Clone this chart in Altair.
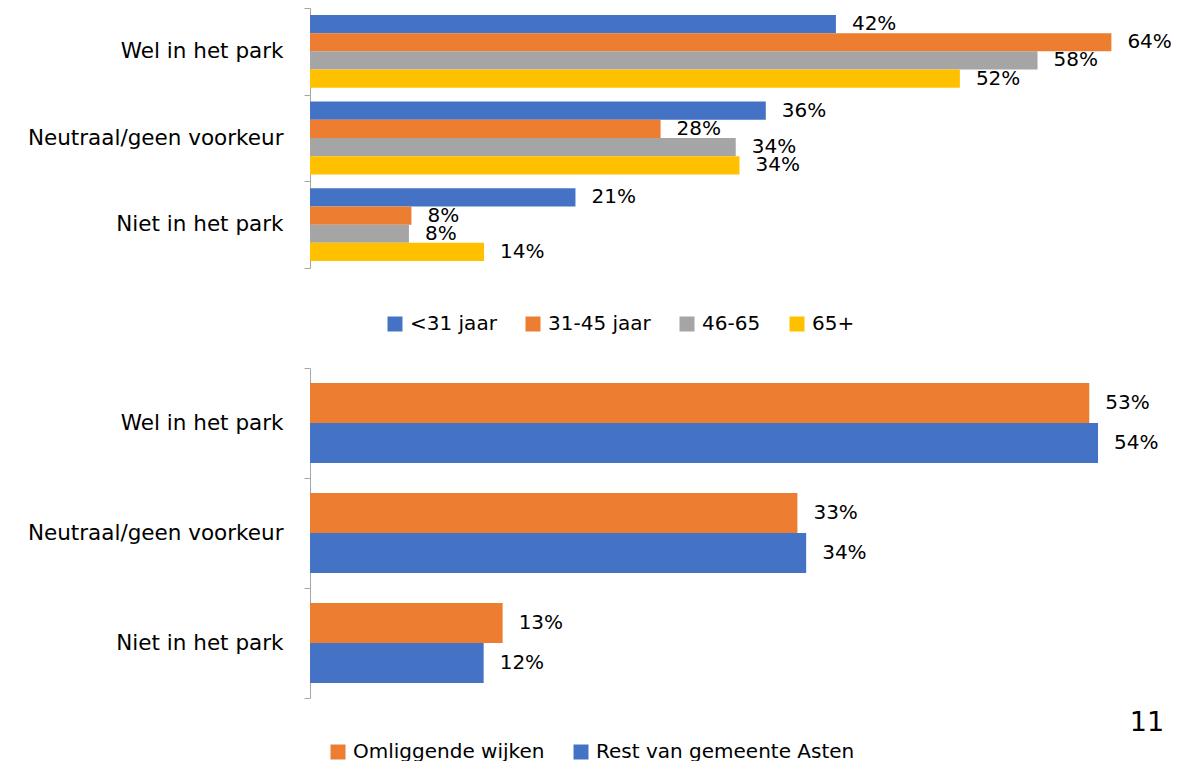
import altair as alt
import pandas as pd

FONT = "DejaVu Sans"

categories = ["Wel in het park", "Neutraal/geen voorkeur", "Niet in het park"]

# Top panel: age groups
age_groups = ["<31 jaar", "31-45 jaar", "46-65", "65+"]
age_colors = ["#4472C4", "#ED7D31", "#A5A5A5", "#FFC000"]
age_values = {
    "<31 jaar": [42.0, 36.4, 21.2],
    "31-45 jaar": [64.0, 28.0, 8.1],
    "46-65": [58.1, 34.0, 7.9],
    "65+": [51.9, 34.3, 13.9],
}

# Bottom panel: area
areas = ["Omliggende wijken", "Rest van gemeente Asten"]
area_colors = ["#ED7D31", "#4472C4"]
area_values = {
    "Omliggende wijken": [53.4, 33.4, 13.2],
    "Rest van gemeente Asten": [54.0, 34.0, 11.9],
}

page_number = "11"

top_rows = []
for g in age_groups:
    for c, v in zip(categories, age_values[g]):
        top_rows.append({"cat": c, "group": g, "value": v})
top_df = pd.DataFrame(top_rows)

bot_rows = []
for a in areas:
    for c, v in zip(categories, area_values[a]):
        bot_rows.append({"cat": c, "group": a, "value": v})
bot_df = pd.DataFrame(bot_rows)


def panel(df, groups, colors, xmax, width, height, off_pad, legend_x, legend_y, extra=None):
    y = alt.Y(
        "cat:N",
        sort=categories,
        title=None,
        scale=alt.Scale(paddingInner=0, paddingOuter=0),
        axis=alt.Axis(
            tickBand="extent",
            domainColor="#A6A6A6",
            tickColor="#A6A6A6",
            tickSize=6,
            labelFontSize=21.5,
            labelFont=FONT,
            labelColor="#000000",
            labelPadding=21,
            minExtent=302,
            maxExtent=302,
            labelLimit=300,
        ),
    )
    x = alt.X(
        "value:Q",
        scale=alt.Scale(domain=[0, xmax], nice=False),
        axis=None,
    )
    yoff = alt.YOffset(
        "group:N", sort=groups, scale=alt.Scale(paddingInner=0, paddingOuter=off_pad)
    )
    base = alt.Chart(df).encode(y=y, yOffset=yoff)
    bars = base.mark_bar().encode(
        x=x,
        color=alt.Color(
            "group:N",
            sort=groups,
            scale=alt.Scale(domain=groups, range=colors),
            legend=alt.Legend(
                title=None,
                orient="none",
                direction="horizontal",
                legendX=legend_x,
                legendY=legend_y,
                symbolType="square",
                symbolSize=225,
                symbolStrokeWidth=0,
                symbolOpacity=1,
                labelFontSize=20,
                labelFont=FONT,
                labelColor="#000000",
                labelOffset=5,
                labelLimit=400,
                columnPadding=26,
            ),
        ),
    )
    labels = base.mark_text(
        align="left", baseline="middle", dx=16, fontSize=20, font=FONT, color="#000000"
    ).transform_calculate(label="round(datum.value) + '%'").encode(x=x, text="label:N")
    layers = [bars, labels]
    if extra is not None:
        layers.append(extra)
    return alt.layer(*layers).properties(width=width, height=height)


top = panel(top_df, age_groups, age_colors, 69, 864, 260, 0.38, 75, 306)

page_txt = alt.Chart(pd.DataFrame({"t": [page_number]})).mark_text(
    fontSize=27, font=FONT, color="#000000", align="center", baseline="middle"
).encode(text="t:N", x=alt.value(837), y=alt.value(355))

bottom = panel(bot_df, areas, area_colors, 59, 861, 330, 0.375, 18, 374, extra=page_txt)

chart = (
    alt.vconcat(top, bottom, spacing=100, bounds="flush")
    .resolve_scale(color="independent", y="independent", x="independent", yOffset="independent")
    .properties(padding={"left": 0, "top": -11, "right": 0, "bottom": 0})
    .configure(font=FONT)
    .configure_view(stroke=None)
)

chart.save("out.html", embed_options={"renderer": "svg", "actions": False})
